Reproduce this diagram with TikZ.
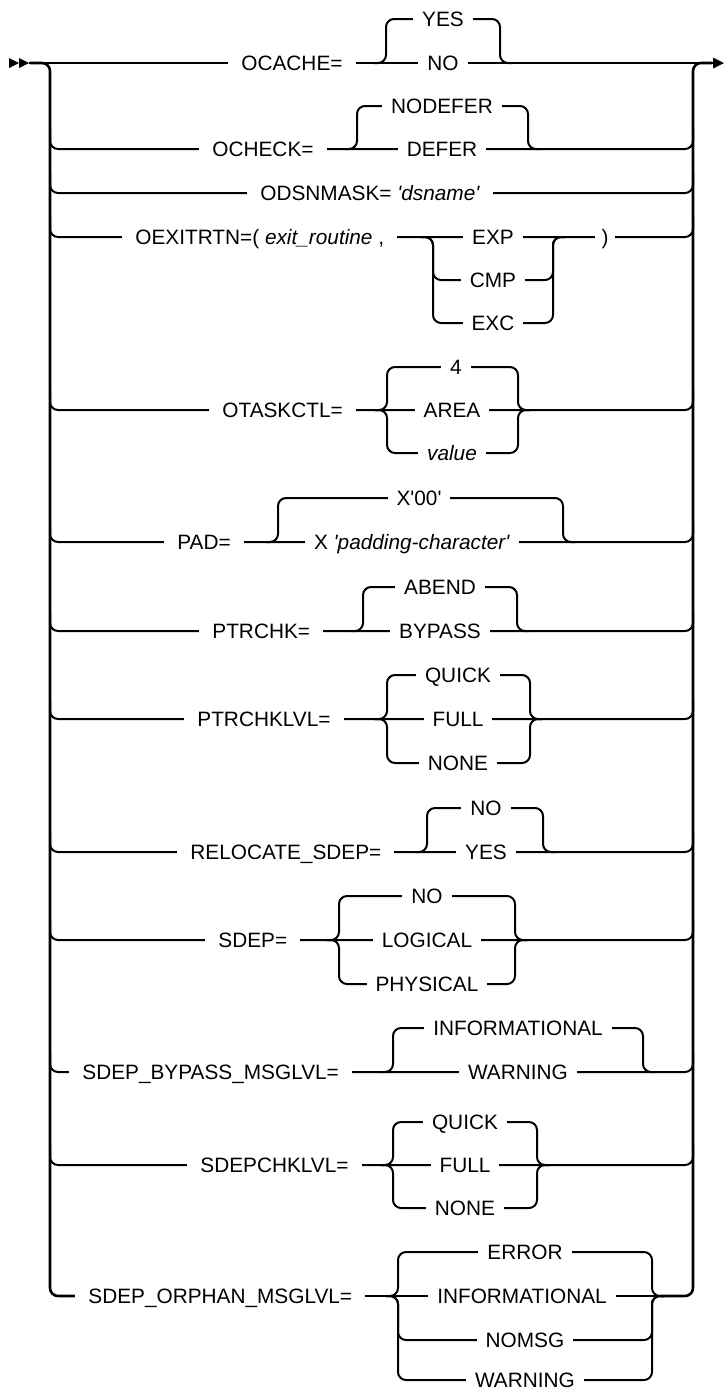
\documentclass[tikz,border=0pt]{standalone}
\usepackage{fontspec}
\setmainfont{Liberation Sans}
\newcommand{\sq}{\textquotesingle}
\newcommand{\stackalt}[4]{\draw[ln] ({#1-12},#3) -- (#1,#3) -- (#1,#4) -- (#2,#4) -- (#2,#3) -- ({#2+12},#3);}
\newcommand{\rowline}[1]{\draw[ln] (50,{#1-20}) -- (50,#1) -- (693,#1) -- (693,{#1-20});}
\begin{document}
\begin{tikzpicture}[x=0.5pt,y=-0.5pt,
  every node/.style={font=\fontsize{10.4}{12}\selectfont},
  ln/.style={line width=1pt, rounded corners=4pt},
  rail/.style={line width=1.3pt, rounded corners=4pt},
  kw/.style={fill=white, inner xsep=6.5pt, inner ysep=1pt, anchor=base west, xshift=-6.5pt, yshift=-3.7pt},
  opt/.style={fill=white, inner xsep=4.5pt, inner ysep=1pt, anchor=base, yshift=-3.7pt}]
\useasboundingbox (0,0) rectangle (725,1389);
% start / end arrows
\fill (9,58) -- (19,63) -- (9,68) -- cycle;
\fill (19,58) -- (29,63) -- (19,68) -- cycle;
\fill (713,57.5) -- (724,63) -- (713,68.5) -- cycle;
% main line and rails
\draw[ln] (29,63) -- (713,63);
\draw[rail] (30,63) -- (50,63) -- (50,1296) -- (80,1296);
\draw[rail] (660,1296) -- (693,1296) -- (693,63) -- (712,63);
\draw[ln] (70,1296) -- (670,1296);
\foreach \y in {149,193,237,410,542,631,719,852,940,1072,1165} {\rowline{\y}}
% stacks
\stackalt{386}{500}{63}{19}
\stackalt{357}{528}{149}{106}
\stackalt{433}{553}{237}{280}
\stackalt{433}{553}{237}{323}
\stackalt{387}{518}{410}{367}
\stackalt{387}{518}{410}{453}
\stackalt{278}{563}{542}{498}
\stackalt{363}{517}{631}{587}
\stackalt{387}{530}{719}{675}
\stackalt{387}{530}{719}{763}
\stackalt{427}{543}{852}{808}
\stackalt{339}{515}{940}{896}
\stackalt{339}{515}{940}{984}
\stackalt{393}{643}{1072}{1028}
\stackalt{393}{537}{1165}{1122}
\stackalt{393}{537}{1165}{1208}
\stackalt{398}{652}{1296}{1252}
\stackalt{398}{652}{1296}{1340}
\stackalt{398}{652}{1296}{1380}
% labels
\node[kw] (k1) at (241,63) {OCACHE=};
\node[opt] (o1a) at (443,19) {YES};
\node[opt] (o1b) at (443,63) {NO};
\node[kw] (k2) at (212,149) {OCHECK=};
\node[opt] (o2a) at (442,106) {NODEFER};
\node[opt] (o2b) at (442,149) {DEFER};
\node[kw] (k3) at (260,193) {ODSNMASK= \textit{\sq dsname\sq}};
\node[kw] (k4) at (135,237) {OEXITRTN=( \textit{exit\_routine} ,};
\node[opt] (o4a) at (493,237) {EXP};
\node[opt] (o4b) at (493,280) {CMP};
\node[opt] (o4c) at (493,323) {EXC};
\node[opt, inner xsep=3.5pt] (o4d) at (605,237) {)};
\node[kw] (k5) at (222,410) {OTASKCTL=};
\node[opt] (o5a) at (456,367) {4};
\node[opt] (o5b) at (452,410) {AREA};
\node[opt] (o5c) at (452,453) {\textit{value}};
\node[kw] (k6) at (177,542) {PAD=};
\node[opt] (o6a) at (419,498) {X\sq 00\sq};
\node[opt] (o6b) at (412,542) {X \textit{\sq padding-character\sq}};
\node[kw] (k7) at (212,631) {PTRCHK=};
\node[opt] (o7a) at (440,587) {ABEND};
\node[opt] (o7b) at (440,631) {BYPASS};
\node[kw] (k8) at (197,719) {PTRCHKLVL=};
\node[opt] (o8a) at (458,675) {QUICK};
\node[opt] (o8b) at (458,719) {FULL};
\node[opt] (o8c) at (458,763) {NONE};
\node[kw] (k9) at (190,852) {RELOCATE\_SDEP=};
\node[opt] (o9a) at (486,808) {NO};
\node[opt] (o9b) at (486,852) {YES};
\node[kw] (k10) at (218,940) {SDEP=};
\node[opt] (o10a) at (427,896) {NO};
\node[opt] (o10b) at (427,940) {LOGICAL};
\node[opt] (o10c) at (427,984) {PHYSICAL};
\node[kw] (k11) at (82,1072) {SDEP\_BYPASS\_MSGLVL=};
\node[opt] (o11a) at (518,1028) {INFORMATIONAL};
\node[opt] (o11b) at (518,1072) {WARNING};
\node[kw] (k12) at (200,1165) {SDEPCHKLVL=};
\node[opt] (o12a) at (465,1122) {QUICK};
\node[opt] (o12b) at (465,1165) {FULL};
\node[opt] (o12c) at (465,1208) {NONE};
\node[kw] (k13) at (88,1296) {SDEP\_ORPHAN\_MSGLVL=};
\node[opt] (o13a) at (525,1252) {ERROR};
\node[opt] (o13b) at (522,1296) {INFORMATIONAL};
\node[opt] (o13c) at (525,1340) {NOMSG};
\node[opt] (o13d) at (525,1380) {WARNING};
\end{tikzpicture}
\end{document}
